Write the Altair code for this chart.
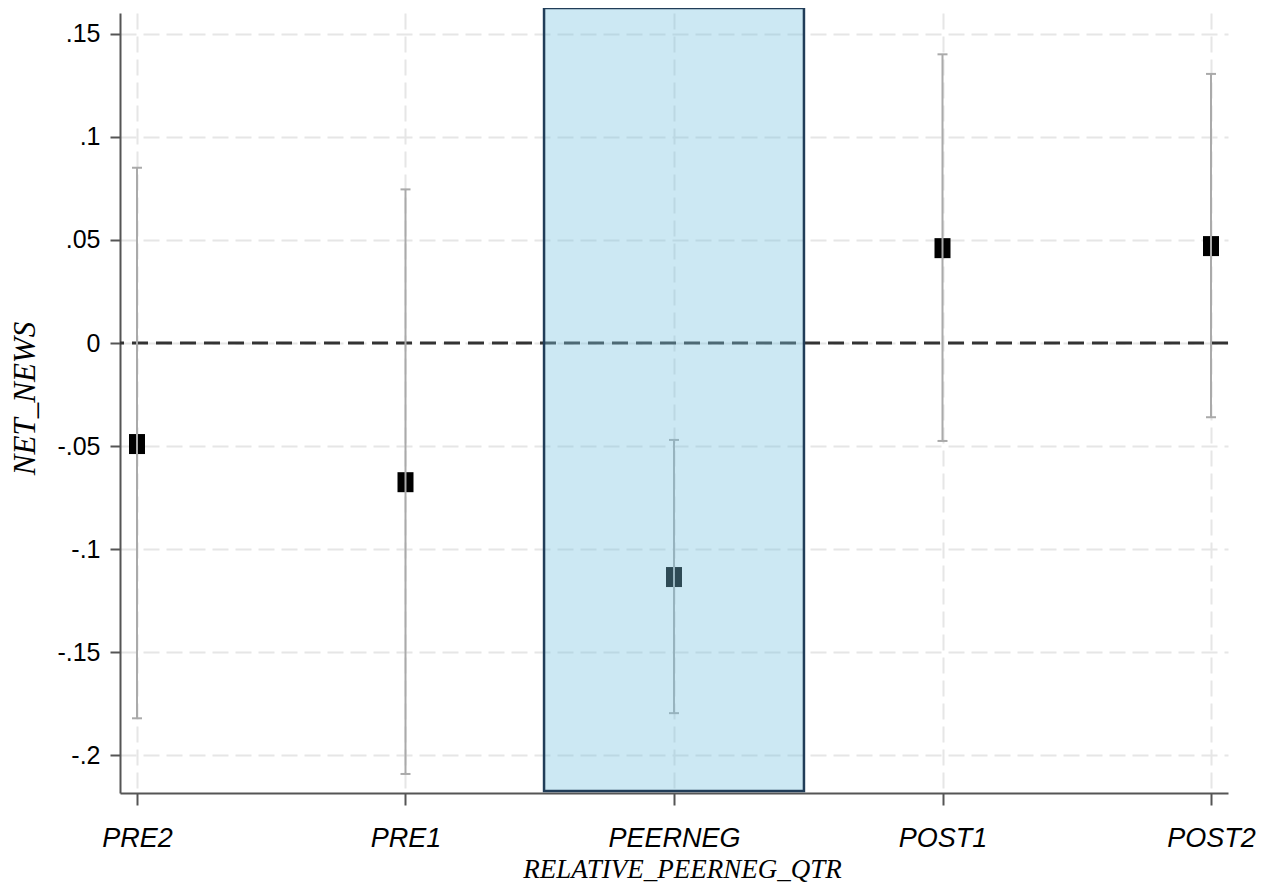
import altair as alt
import pandas as pd

categories = ["PRE2", "PRE1", "PEERNEG", "POST1", "POST2"]
positions = [0, 1, 2, 3, 4]
estimates = [-0.049, -0.0675, -0.1135, 0.046, 0.047]
ci_low = [-0.182, -0.209, -0.1795, -0.0475, -0.036]
ci_high = [0.085, 0.0745, -0.047, 0.140, 0.1305]

y_ticks = [-0.2, -0.15, -0.1, -0.05, 0, 0.05, 0.1, 0.15]
y_tick_labels = ["-.2", "-.15", "-.1", "-.05", "0", ".05", ".1", ".15"]

# highlighted event window (around PEERNEG)
box_x = [1.516]
box_x2 = [2.484]
box_y = [0.1625]
box_y2 = [-0.2173]

df = pd.DataFrame({
    "pos": positions,
    "cat": categories,
    "est": estimates,
    "lo": ci_low,
    "hi": ci_high,
})
box_df = pd.DataFrame({"x": box_x, "x2": box_x2, "y": box_y, "y2": box_y2})

x_label_expr = "[" + ",".join(f"'{c}'" for c in categories) + "][round(datum.value)]"
y_map = "{" + ",".join(f"'{round(v, 2)}':'{l}'" for v, l in zip(y_ticks, y_tick_labels)) + "}"
y_label_expr = f"{y_map}[toString(round(datum.value*100)/100)]"

x_scale = alt.Scale(domain=[-0.0633, 4.0633], nice=False, zero=False)
y_scale = alt.Scale(domain=[-0.21823, 0.16004], nice=False, zero=False)

x_axis = alt.Axis(
    values=positions,
    labelExpr=x_label_expr,
    title="RELATIVE_PEERNEG_QTR",
    titleFont="Liberation Serif",
    titleFontStyle="italic",
    titleFontWeight="normal",
    titleFontSize=27,
    titleColor="black",
    titleX=562,
    titleY=84,
    titleBaseline="alphabetic",
    titleAlign="center",
    labelFont="Liberation Sans",
    labelFontStyle="italic",
    labelFontSize=27,
    labelColor="black",
    labelBaseline="alphabetic",
    labelPadding=41,
    labelFlush=False,
    labelOverlap=False,
    tickSize=12,
    tickWidth=2,
    tickColor="#555555",
    domainColor="#555555",
    domainWidth=2,
    grid=True,
    gridColor="#e6e6e6",
    gridDash=[16, 7],
    gridWidth=2,
)

y_axis = alt.Axis(
    values=y_ticks,
    labelExpr=y_label_expr,
    title="NET_NEWS",
    titleFont="Liberation Serif",
    titleFontStyle="italic",
    titleFontWeight="normal",
    titleFontSize=31,
    titleColor="black",
    titleAngle=270,
    titleX=-95,
    titleY=385,
    titleAlign="center",
    titleBaseline="middle",
    labelFont="Liberation Sans",
    labelFontSize=25,
    labelColor="black",
    labelPadding=10,
    labelOverlap=False,
    labelFlush=False,
    tickSize=10,
    tickWidth=2,
    tickColor="#555555",
    domainColor="#555555",
    domainWidth=2,
    grid=True,
    gridColor="#e6e6e6",
    gridDash=[16, 7],
    gridWidth=2,
)

base = alt.Chart(df)

points = base.mark_point(
    shape="M-0.8,-1L0.8,-1L0.8,1L-0.8,1Z",
    filled=True,
    color="black",
    opacity=1,
    size=400,
).encode(
    x=alt.X("pos:Q", scale=x_scale, axis=x_axis),
    y=alt.Y("est:Q", scale=y_scale, axis=y_axis),
)

zero = alt.Chart(pd.DataFrame({"z": [0]})).mark_rule(
    color="#333333", strokeWidth=3, strokeDash=[16, 8]
).encode(y=alt.Y("z:Q", scale=y_scale))

err = base.mark_rule(color="#aaaaaa", strokeWidth=2).encode(
    x=alt.X("pos:Q", scale=x_scale),
    y=alt.Y("lo:Q", scale=y_scale),
    y2="hi:Q",
)
cap_lo = base.mark_tick(orient="horizontal", size=10, thickness=2, color="#aaaaaa", opacity=1).encode(
    x=alt.X("pos:Q", scale=x_scale),
    y=alt.Y("lo:Q", scale=y_scale),
)
cap_hi = base.mark_tick(orient="horizontal", size=10, thickness=2, color="#aaaaaa", opacity=1).encode(
    x=alt.X("pos:Q", scale=x_scale),
    y=alt.Y("hi:Q", scale=y_scale),
)

box = alt.Chart(box_df).mark_rect(
    fill="#7ac3e0",
    fillOpacity=0.38,
    stroke="#213d58",
    strokeWidth=2.5,
    strokeOpacity=1,
    clip=False,
).encode(
    x=alt.X("x:Q", scale=x_scale),
    x2="x2:Q",
    y=alt.Y("y:Q", scale=y_scale),
    y2="y2:Q",
)

chart = alt.layer(zero, points, err, cap_lo, cap_hi, box).properties(
    width=1108,
    height=780,
    autosize=alt.AutoSizeParams(type="none"),
    padding={"left": 112, "top": 5, "right": 32, "bottom": 92},
    background="white",
).configure_view(stroke=None)

chart.save("out.html", embed_options={"renderer": "svg", "actions": False})
